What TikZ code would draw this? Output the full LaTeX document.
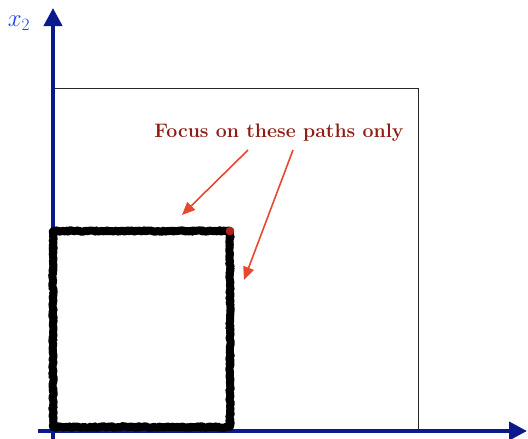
\documentclass[tikz,border=0pt]{standalone}
\usetikzlibrary{arrows.meta,decorations.pathmorphing}
\definecolor{axisblue}{RGB}{10,25,140}
\definecolor{labelblue}{RGB}{30,60,230}
\definecolor{textred}{RGB}{140,30,20}
\definecolor{arrowred}{RGB}{232,72,48}
\definecolor{dotred}{RGB}{180,35,25}
\tikzset{
  axis/.style={line width=4pt, color=axisblue, -{Triangle[length=18pt,width=18pt]}},
  pointer/.style={line width=1.6pt, color=arrowred, -{Triangle[length=13pt,width=11pt]}},
  roughpath/.style={line width=8pt, black, line join=round, line cap=round, decorate, decoration={random steps, segment length=1.5pt, amplitude=0.8pt}},
  roughcore/.style={line width=4pt, black, line join=round, line cap=round, decorate, decoration={random steps, segment length=2pt, amplitude=1.5pt}},
}
\begin{document}
\begin{tikzpicture}[x=1pt,y=-1pt]
\useasboundingbox (0,0) rectangle (528,439);
% coordinates
\coordinate (xs) at (38,431);
\coordinate (xe) at (527,431);
\coordinate (ys) at (53,439);
\coordinate (ye) at (53,8);
\coordinate (p1) at (53,427);
\coordinate (p2) at (53,231);
\coordinate (p3) at (230,231);
\coordinate (p4) at (230,427);
% thin box
\draw[line width=1pt, black!85] (53,88) -- (418,88) -- (418,431);
% axes
\draw[axis] (xs) -- (xe);
\draw[axis] (ys) -- (ye);
\node[text=labelblue, font=\fontsize{25}{28}\selectfont] (lab) at (19,23) {$x_2$};
% rough path
\draw[roughpath] (p1) -- (p2) -- (p3) -- (p4) -- cycle;
\draw[roughcore] (p1) -- (p2) -- (p3) -- (p4) -- cycle;
\draw[roughcore] (p1) -- (p2) -- (p3) -- (p4) -- cycle;
% dot
\fill[dotred] (p3) circle (4.3pt);
% label and pointers
\node[text=textred, font=\fontsize{19.5}{23}\selectfont\bfseries] (t) at (279,133) {Focus on these paths only};
\coordinate (a1s) at (248,150);
\coordinate (a1e) at (182,215);
\coordinate (a2s) at (293,150);
\coordinate (a2e) at (244,280);
\draw[pointer] (a1s) -- (a1e);
\draw[pointer] (a2s) -- (a2e);
\end{tikzpicture}
\end{document}
